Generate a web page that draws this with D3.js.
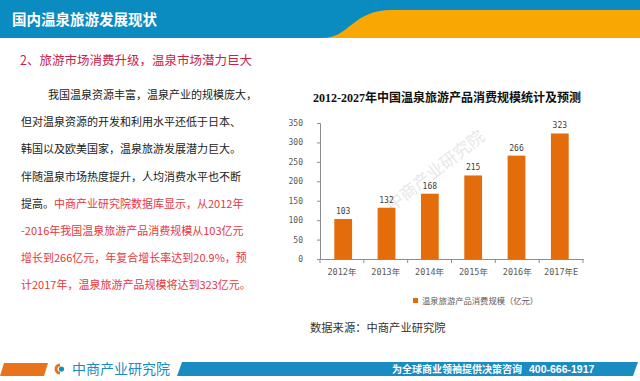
<!DOCTYPE html>
<html>
  <head>
    <meta charset="UTF-8" />
    <style>
      body {
        margin: 0;
        background: #fff;
        font-family: "Noto Sans CJK SC", "Noto Sans", sans-serif;
      }
      svg {
        display: block;
      }
      .axis path,
      .axis line {
        stroke: #8c8c8c;
      }
      .axis text {
        fill: #595959;
        font-family: "DejaVu Sans Mono", "Noto Sans CJK SC", monospace;
      }
    </style>
  </head>
  <body>
    <svg></svg>
    <script src="https://d3js.org/d3.v7.min.js"></script>
    <script>
      // chart data
      const years = ["2012年", "2013年", "2014年", "2015年", "2016年", "2017年E"];
      const values = [103, 132, 168, 215, 266, 323];
      const yTicks = [0, 50, 100, 150, 200, 250, 300, 350];

      // page texts
      const pageTitle = "国内温泉旅游发展现状";
      const subTitle = "2、旅游市场消费升级，温泉市场潜力巨大";
      const chartTitle = "2012-2027年中国温泉旅游产品消费规模统计及预测";
      const legendLabel = "温泉旅游产品消费规模（亿元）";
      const sourceText = "数据来源：中商产业研究院";
      // each line: [black part, red part]
      const bodyLines = [
        ["我国温泉资源丰富，温泉产业的规模庞大，", ""],
        ["但对温泉资源的开发和利用水平还低于日本、", ""],
        ["韩国以及欧美国家，温泉旅游发展潜力巨大。", ""],
        ["伴随温泉市场热度提升，人均消费水平也不断", ""],
        ["提高。", "中商产业研究院数据库显示，从2012年"],
        ["", "-2016年我国温泉旅游产品消费规模从103亿元"],
        ["", "增长到266亿元，年复合增长率达到20.9%，预"],
        ["", "计2017年，温泉旅游产品规模将达到323亿元。"],
      ];

      let width = 640,
        height = 381;

      let svg = d3.select("svg").attr("width", width).attr("height", height);

      //Header band
      svg.append("rect")
        .attr("x", 0).attr("y", 0)
        .attr("width", width).attr("height", 38)
        .attr("fill", "#0b8cc1");

      svg.append("path")
        .attr("d", "M322,38 C350,38 352,10 392,10 L640,10 L640,38 Z")
        .attr("fill", "#f9a703");

      svg.append("text")
        .attr("x", 12).attr("y", 24.5)
        .attr("fill", "#fff")
        .style("font-size", "14.5px")
        .style("font-weight", "bold")
        .text(pageTitle);

      svg.append("text")
        .attr("x", 20).attr("y", 64.5)
        .attr("fill", "#c8224a")
        .style("font-size", "12.5px")
        .text(subTitle);

      //Body paragraph
      let body = svg.append("g").style("font-size", "11px");
      bodyLines.forEach((line, i) => {
        let t = body.append("text")
          .attr("x", i === 0 ? 48 : 21)
          .attr("y", 99 + i * 27.2);
        if (line[0]) t.append("tspan").attr("fill", "#222").text(line[0]);
        if (line[1]) t.append("tspan").attr("fill", "#e8363c").text(line[1]);
      });

      //Chart
      let x = d3.scaleBand()
        .domain(years)
        .range([320, 583])
        .paddingInner(0.59)
        .paddingOuter(0.33);

      let xCat = d3.scaleBand().domain(years).range([320, 583]).padding(0);

      let y = d3.scaleLinear().domain([0, 350]).range([259, 123]);

      svg.append("text")
        .attr("x", 447).attr("y", 101.5)
        .attr("text-anchor", "middle")
        .attr("fill", "#111")
        .style("font-family", "'Liberation Serif', 'Noto Sans CJK SC', serif")
        .style("font-size", "12px")
        .style("font-weight", "bold")
        .text(chartTitle);

      // watermark
      svg.append("text")
        .attr("transform", "translate(392,212) rotate(-38)")
        .attr("fill", "#e8e8e8")
        .style("font-size", "17px")
        .text("中商产业研究院");

      svg.append("g")
        .attr("class", "axis")
        .attr("transform", "translate(320,0)")
        .call(d3.axisLeft(y).tickValues(yTicks).tickSize(3).tickPadding(14))
        .call((g) => g.selectAll("text").style("font-size", "8px"));

      svg.append("g")
        .attr("class", "axis")
        .attr("transform", "translate(0,259)")
        .call(d3.axisBottom(xCat).tickSize(0).tickPadding(10))
        .call((g) => g.selectAll("text").style("font-size", "8.5px"));

      // tick marks between categories
      svg.append("g")
        .selectAll("line")
        .data(years.concat([null]))
        .enter()
        .append("line")
        .attr("x1", (d) => (d ? xCat(d) : xCat.range()[1]))
        .attr("x2", (d) => (d ? xCat(d) : xCat.range()[1]))
        .attr("y1", 259)
        .attr("y2", 263)
        .attr("stroke", "#8c8c8c");

      svg.append("g")
        .selectAll("rect")
        .data(values)
        .enter()
        .append("rect")
        .attr("x", (d, i) => x(years[i]))
        .attr("y", (d) => y(d))
        .attr("width", x.bandwidth())
        .attr("height", (d) => y(0) - y(d))
        .attr("fill", "#e46c0a");

      svg.append("g")
        .selectAll("text")
        .data(values)
        .enter()
        .append("text")
        .attr("x", (d, i) => x(years[i]) + x.bandwidth() / 2)
        .attr("y", (d) => y(d) - 5)
        .attr("text-anchor", "middle")
        .attr("fill", "#404040")
        .style("font-family", "'DejaVu Sans Mono', monospace")
        .style("font-size", "8px")
        .text((d) => d);

      //Legend
      svg.append("rect")
        .attr("x", 413).attr("y", 298)
        .attr("width", 5).attr("height", 5)
        .attr("fill", "#e46c0a");

      svg.append("text")
        .attr("x", 422).attr("y", 304)
        .attr("fill", "#595959")
        .style("font-size", "8.3px")
        .text(legendLabel);

      svg.append("text")
        .attr("x", 310).attr("y", 332)
        .attr("fill", "#333")
        .style("font-size", "11.3px")
        .text(sourceText);

      //Footer
      svg.append("path")
        .attr("d", "M4,363 L48,363 L44,376 L0,376 Z")
        .attr("fill", "#e8731a");

      svg.append("path")
        .attr("d", "M182,362 L638,362 L633,376 L177,376 Z")
        .attr("fill", "#1a8cc2");

      // logo icon
      svg.append("path")
        .attr("d", "M60,363.5 A5.5,5.5 0 1 0 60,374.5 L60,371.5 A2.5,2.5 0 1 1 60,366.5 Z")
        .attr("fill", "#e8731a");
      svg.append("circle")
        .attr("cx", 61.5).attr("cy", 369)
        .attr("r", 2.6)
        .attr("fill", "#1a8cc2");

      svg.append("text")
        .attr("x", 72).attr("y", 374)
        .attr("fill", "#1a8cc2")
        .style("font-size", "14px")
        .text("中商产业研究院");

      svg.append("text")
        .attr("x", 392).attr("y", 373)
        .attr("fill", "#fff")
        .style("font-size", "10px")
        .style("font-weight", "bold")
        .text("为全球商业领袖提供决策咨询");

      svg.append("text")
        .attr("x", 529).attr("y", 373)
        .attr("fill", "#fff")
        .style("font-size", "10.5px")
        .style("font-weight", "bold")
        .style("font-family", "'Liberation Sans', sans-serif")
        .text("400-666-1917");
    </script>
  </body>
</html>
